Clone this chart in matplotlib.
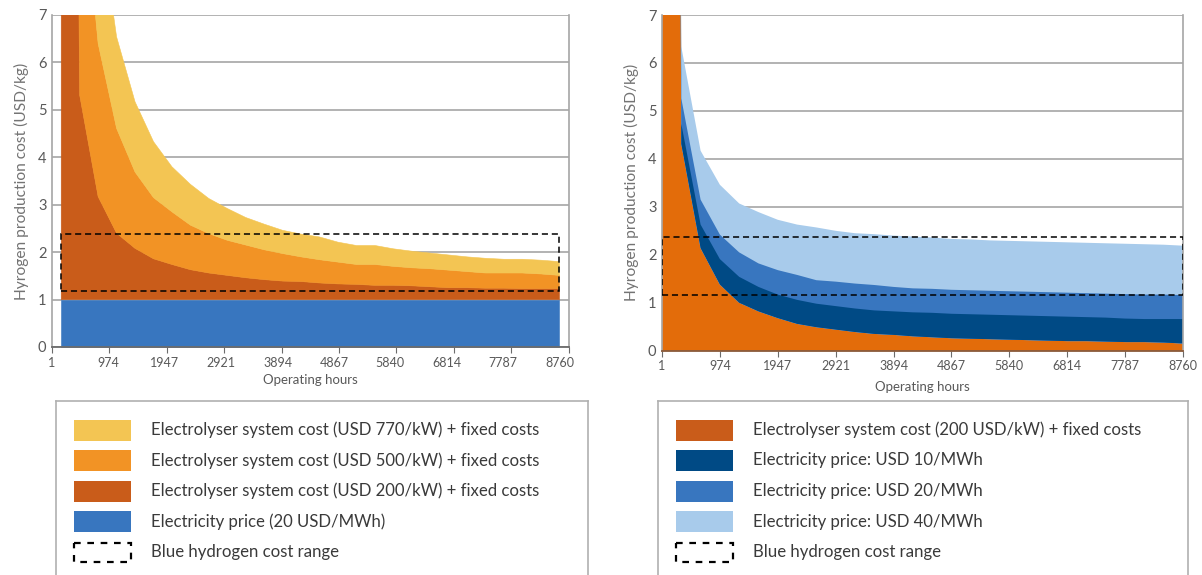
import numpy as np
import matplotlib
matplotlib.use("Agg")
import matplotlib.pyplot as plt
from matplotlib.patches import Rectangle

plt.rcParams['font.family'] = ['Lato', 'DejaVu Sans']

# tick labels of the operating hours axis
hour_labels = ['1', '974', '1947', '2921', '3894', '4867', '5840', '6814', '7787', '8760']

# left chart: cumulative cost (USD/kg) at 28 operating-hour steps
elec_20 = [1.00, 1.00, 1.00, 1.00, 1.00, 1.00, 1.00, 1.00, 1.00, 1.00, 1.00, 1.00, 1.00, 1.00,
           1.00, 1.00, 1.00, 1.00, 1.00, 1.00, 1.00, 1.00, 1.00, 1.00, 1.00, 1.00, 1.00, 1.00]
cost_200 = [50.0, 5.31, 3.17, 2.40, 2.08, 1.86, 1.74, 1.63, 1.56, 1.51, 1.46, 1.42, 1.39, 1.38,
            1.35, 1.33, 1.32, 1.30, 1.30, 1.29, 1.27, 1.25, 1.25, 1.24, 1.24, 1.23, 1.23, 1.23]
cost_500 = [110.0, 10.5, 6.40, 4.61, 3.69, 3.15, 2.85, 2.57, 2.39, 2.25, 2.15, 2.05, 1.97, 1.90,
            1.84, 1.79, 1.74, 1.74, 1.70, 1.67, 1.65, 1.62, 1.59, 1.56, 1.56, 1.56, 1.54, 1.51]
cost_770 = [165.0, 15.0, 9.30, 6.54, 5.17, 4.33, 3.80, 3.43, 3.13, 2.92, 2.73, 2.59, 2.46, 2.38,
            2.32, 2.21, 2.14, 2.14, 2.07, 2.02, 1.98, 1.94, 1.90, 1.87, 1.85, 1.85, 1.83, 1.80]
blue_h2_left = (1.19, 2.39)

# right chart: electrolyser 200 USD/kW plus electricity at 10 / 20 / 40 USD/MWh (totals)
r_cost_200 = [100.0, 4.31, 2.14, 1.38, 1.00, 0.82, 0.68, 0.56, 0.49, 0.44, 0.39, 0.35, 0.33, 0.30,
              0.28, 0.26, 0.25, 0.24, 0.23, 0.22, 0.21, 0.20, 0.20, 0.19, 0.18, 0.18, 0.17, 0.15]
r_total_10 = [100.6, 4.73, 2.63, 1.91, 1.54, 1.33, 1.17, 1.06, 0.98, 0.93, 0.88, 0.84, 0.82, 0.80,
              0.79, 0.77, 0.76, 0.75, 0.74, 0.73, 0.72, 0.71, 0.70, 0.69, 0.67, 0.66, 0.66, 0.66]
r_total_20 = [101.2, 5.26, 3.15, 2.42, 2.05, 1.82, 1.68, 1.58, 1.47, 1.44, 1.40, 1.37, 1.33, 1.30,
              1.29, 1.27, 1.26, 1.25, 1.24, 1.23, 1.22, 1.21, 1.20, 1.19, 1.18, 1.17, 1.17, 1.16]
r_total_40 = [102.0, 6.34, 4.17, 3.46, 3.07, 2.89, 2.73, 2.63, 2.57, 2.50, 2.45, 2.43, 2.40, 2.38,
              2.36, 2.33, 2.32, 2.30, 2.29, 2.28, 2.27, 2.26, 2.25, 2.24, 2.23, 2.22, 2.21, 2.19]
blue_h2_right = (1.16, 2.38)

left_legend = ['Electrolyser system cost (USD 770/kW) + fixed costs',
               'Electrolyser system cost (USD 500/kW) + fixed costs',
               'Electrolyser system cost (USD 200/kW) + fixed costs',
               'Electricity price (20 USD/MWh)',
               'Blue hydrogen cost range']
right_legend = ['Electrolyser system cost (200 USD/kW) + fixed costs',
                'Electricity price: USD 10/MWh',
                'Electricity price: USD 20/MWh',
                'Electricity price: USD 40/MWh',
                'Blue hydrogen cost range']

YELLOW = '#F3C553'
ORANGE = '#F29325'
DKORANGE = '#C95C1A'
BLUE = '#3876BF'
R_ORANGE = '#E36C0A'
NAVY = '#004A85'
LTBLUE = '#A8CBEB'
GRID = '#A6A6A6'
TXT = '#595959'

W, H = 1202, 575
fig = plt.figure(figsize=(W / 100, H / 100), dpi=100)


def fig_rect(x0, y0, x1, y1):
    return [x0 / W, 1 - y1 / H, (x1 - x0) / W, (y1 - y0) / H]


def style_axes(ax):
    ax.set_ylim(0, 7)
    ax.set_yticks(range(8))
    ax.yaxis.grid(True, color=GRID, lw=1.2)
    ax.set_axisbelow(True)
    for s in ['left', 'right']:
        ax.spines[s].set_color(GRID)
        ax.spines[s].set_linewidth(1.2)
    ax.spines['top'].set_visible(False)
    ax.spines['bottom'].set_color('#6b6b6b')
    ax.spines['bottom'].set_linewidth(1.3)
    ax.tick_params(axis='y', length=0, pad=4, labelsize=10.5, labelcolor=TXT)
    ax.tick_params(axis='x', which='major', direction='out', length=4, color='#6b6b6b',
                   labelsize=9, labelcolor=TXT, pad=3)
    ax.set_ylabel('Hyrogen production cost (USD/kg)', fontsize=11.2, color='#737373', labelpad=6)
    ax.set_xlabel('Operating hours', fontsize=9.5, color=TXT, labelpad=4)


x = np.arange(len(cost_200))

# ---- left chart
ax1 = fig.add_axes(fig_rect(52, 15, 568.7, 347))
ax1.fill_between(x, 0, elec_20, color=BLUE, lw=0.4, ec=BLUE)
ax1.fill_between(x, elec_20, cost_200, color=DKORANGE, lw=0.4, ec=DKORANGE)
ax1.fill_between(x, cost_200, cost_500, color=ORANGE, lw=0.4, ec=ORANGE)
ax1.fill_between(x, cost_500, cost_770, color=YELLOW, lw=0.4, ec=YELLOW)
ax1.add_patch(Rectangle((x[0], blue_h2_left[0]), x[-1] - x[0], blue_h2_left[1] - blue_h2_left[0],
                        fill=False, ec='black', lw=1.1, ls=(0, (4, 2.5)), zorder=5))
ax1.set_xlim(-0.5, len(x) - 0.5)
style_axes(ax1)
ax1.xaxis.remove_overlapping_locs = False
ax1.set_xticks(np.linspace(-0.5, len(x) - 0.5, len(hour_labels)))
ax1.set_xticklabels([])
ax1.set_xticks(np.linspace(-0.5, len(x) - 1, len(hour_labels)), minor=True)
ax1.set_xticklabels(hour_labels, minor=True)
ax1.tick_params(axis='x', which='minor', length=0, labelsize=9, labelcolor=TXT, pad=7)

# ---- right chart
ax2 = fig.add_axes(fig_rect(662, 15, 1183, 350.7))
ax2.fill_between(x, 0, r_cost_200, color=R_ORANGE, lw=0.4, ec=R_ORANGE)
ax2.fill_between(x, r_cost_200, r_total_40, color=LTBLUE, lw=0)
ax2.fill_between(x, r_cost_200, r_total_20, color=BLUE, lw=0)
ax2.fill_between(x, r_cost_200, r_total_10, color=NAVY, lw=0)
ax2.add_patch(Rectangle((x[0], blue_h2_right[0]), x[-1] - x[0], blue_h2_right[1] - blue_h2_right[0],
                        fill=False, ec='black', lw=1.1, ls=(0, (4, 2.5)), zorder=5))
ax2.set_xlim(x[0], x[-1])
style_axes(ax2)
ax2.spines['bottom'].set_color('#8a5a3a')
ax2.set_xticks(np.linspace(x[0], x[-1], len(hour_labels)))
ax2.set_xticklabels(hour_labels)
ax2.xaxis.labelpad = 6


# ---- legends (boxes open at the bottom)
def draw_legend(x0, x1, labels, swatches):
    lg = fig.add_axes(fig_rect(x0, 401, x1, 575))
    lg.set_xlim(0, x1 - x0)
    lg.set_ylim(174, 0)
    lg.set_xticks([])
    lg.set_yticks([])
    lg.spines['bottom'].set_visible(False)
    for s in ['left', 'right', 'top']:
        lg.spines[s].set_color('#b0b0b0')
        lg.spines[s].set_linewidth(1.2)
    for i, (lab, col) in enumerate(zip(labels, swatches)):
        yc = 29 + i * 30.5
        if col is None:
            lg.add_patch(Rectangle((18, yc - 9.5), 57, 19, fill=False, ec='black',
                                   lw=1.6, ls=(0, (3, 3))))
        else:
            lg.add_patch(Rectangle((18, yc - 10.5), 57, 21, color=col, lw=0))
        lg.text(95, yc, lab, fontsize=12.1, color='#3a3a3a', va='center', ha='left')


draw_legend(56, 588, left_legend, [YELLOW, ORANGE, DKORANGE, BLUE, None])
draw_legend(658, 1188, right_legend, [DKORANGE, NAVY, BLUE, LTBLUE, None])

fig.savefig('out.png', dpi=100)
